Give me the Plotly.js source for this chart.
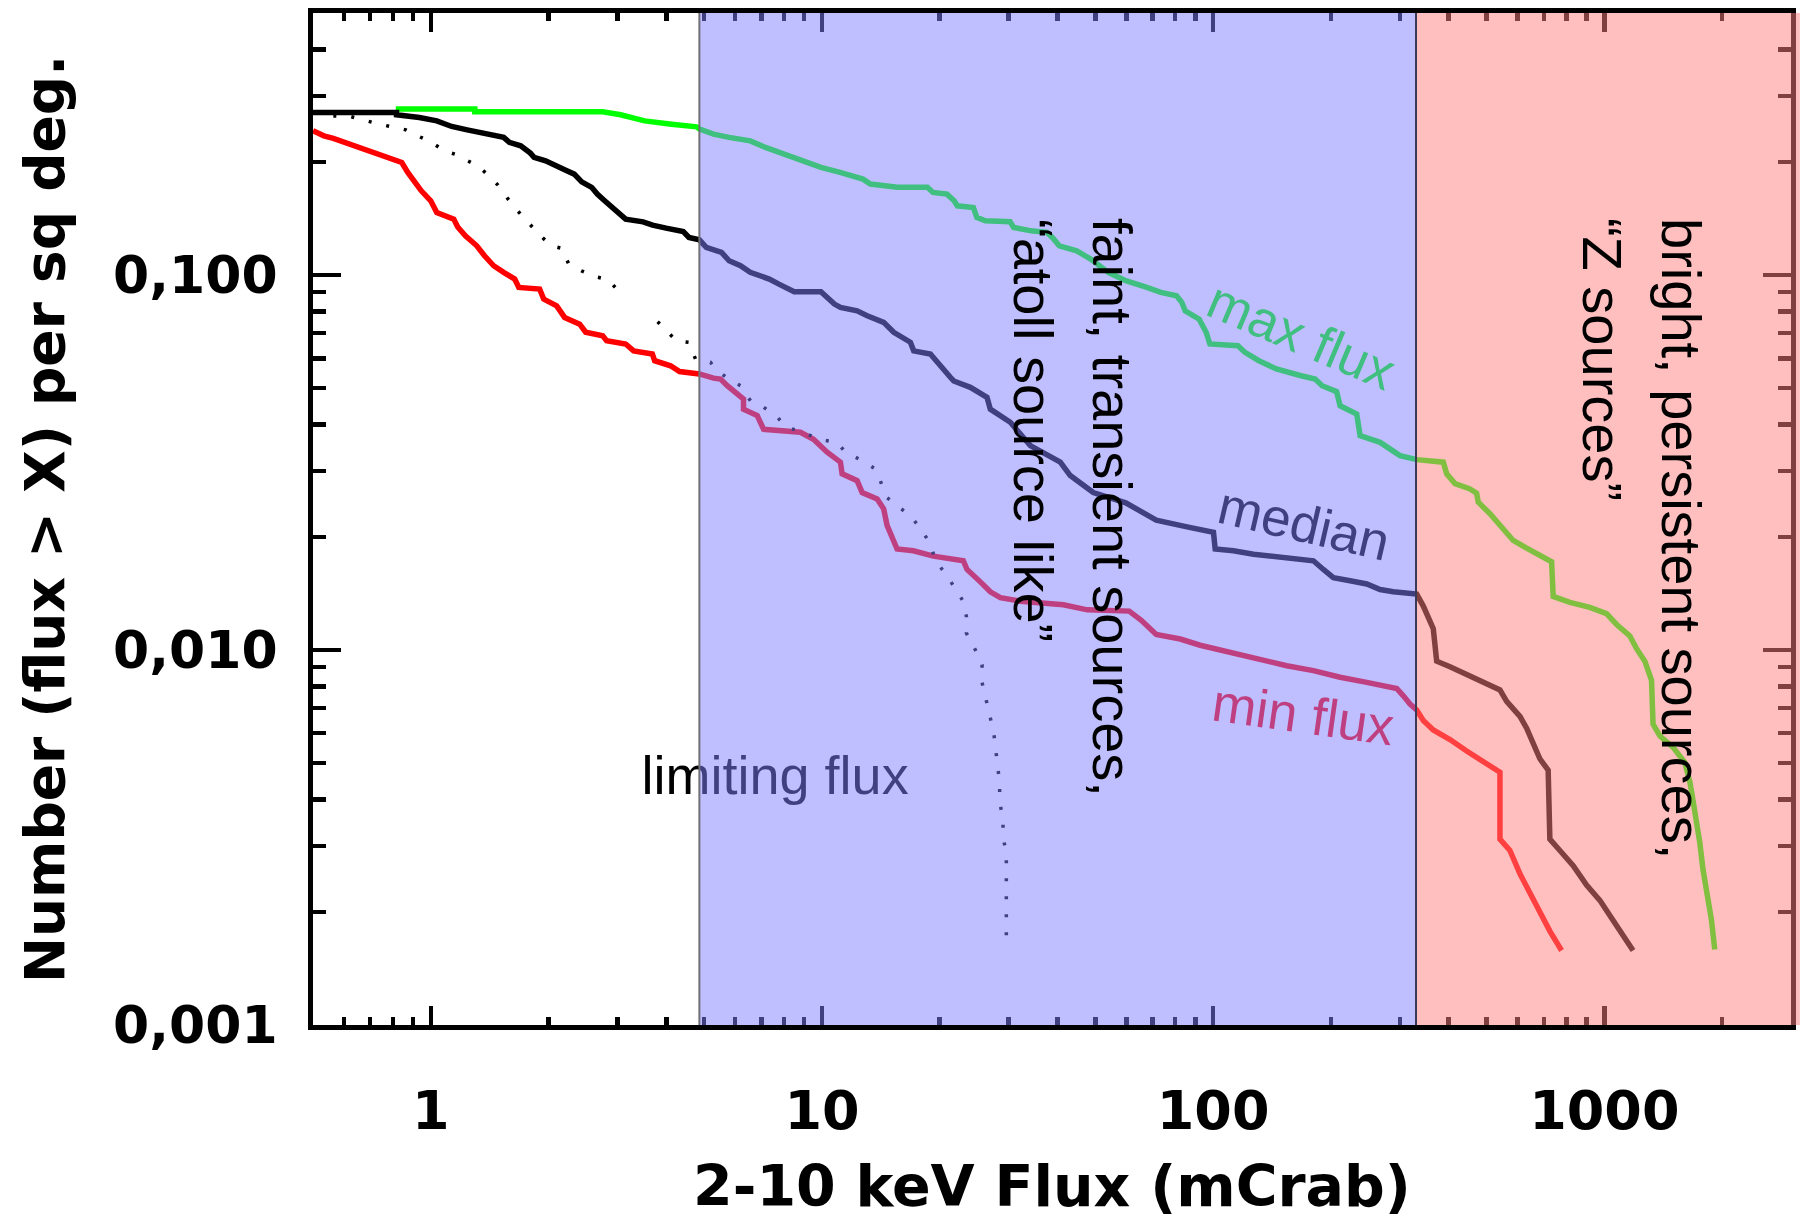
<!DOCTYPE html>
<html><head><meta charset="utf-8">
<script src="https://cdn.plot.ly/plotly-3.0.1.min.js"></script>
<style>body{margin:0;background:#fff}#chart{width:1803px;height:1219px}</style>
</head><body><div id="chart"></div>
<script>
// ---- data (flux in mCrab, N(>S) per sq deg) ----
const maxFluxX = [0.814,1.296,1.296,2.75,3.057,3.262,3.521,4.127,4.78,4.866,5.283,5.79,6.556,7.173,7.85,8.686,9.94,11.12,12.73,13.3,15.59,18.6,19.22,20.87,21.77,22.19,24.38,24.88,26.16,30.27,30.9,34.24,37.58,38.8,40.44,44.78,48.64,53.93,59.78,67.69,73.48,80.63,83.13,84.82,92.09,95.96,98.08,115.7,120.6,130.9,145.1,167.8,182.2,189.9,206.8,211.1,232.8,237.5,267.1,300.4,331.4,387.5,395.4,415.2,453.4,471.6,476.1,510,551.4,584.8,632.8,684.1,733,740,816.5,918.3,1013,1075,1162,1208,1269,1320,1332,1387,1499,1606,1654,1686,1720,1754,1788,1841,1878,1915];
const maxFluxY = [0.2772,0.2772,0.2727,0.2727,0.2676,0.2633,0.2578,0.2526,0.2485,0.245,0.2377,0.2329,0.228,0.219,0.2115,0.2047,0.1937,0.1879,0.1803,0.1749,0.1714,0.1714,0.1661,0.1644,0.1578,0.153,0.1515,0.1425,0.1396,0.1387,0.134,0.1312,0.13,0.126,0.1197,0.1161,0.1103,0.1017,0.0966,0.0927,0.0899,0.0881,0.0846,0.0803,0.0763,0.0704,0.0655,0.0648,0.0622,0.0591,0.0562,0.0539,0.0528,0.0507,0.0489,0.0448,0.0426,0.0373,0.0358,0.033,0.0322,0.0317,0.0295,0.0278,0.0269,0.0262,0.0248,0.0231,0.021,0.0196,0.0187,0.0178,0.0172,0.0139,0.0134,0.013,0.0125,0.0117,0.0109,0.0101,0.00934,0.0083,0.00634,0.0059,0.0055,0.00501,0.00445,0.00396,0.00352,0.00306,0.00259,0.0022,0.00191,0.00159];

const medianX = [0.5,0.8174,0.8174,0.935,1.036,1.131,1.239,1.387,1.536,1.588,1.698,1.797,1.837,1.966,2.08,2.199,2.327,2.431,2.578,2.665,2.783,2.917,3.051,3.149,3.49,3.69,3.995,4.42,4.571,4.86,5.061,5.537,5.79,6.192,6.556,7.335,7.761,8.492,9.94,10.76,11.15,12.3,13.05,14.38,15.26,16.83,17.16,18.93,21.29,21.72,23.95,26.42,26.94,30.3,34.09,40.67,43.12,49.38,59.78,71.53,85.73,100.2,101.2,112.7,126.8,145.5,180.4,191.3,202.9,223.8,247,267.1,288.8,331.4,344.5,365.3,372.7,403.1,444.6,500.1,540.9,562.6,608.5,632.9,657.9,684.1,718.4,725.6,769.6,832.4,900.6,974,1033,1095,1184];
const medianY = [0.2716,0.2716,0.2676,0.2633,0.2578,0.2491,0.244,0.2391,0.2329,0.2259,0.2212,0.2115,0.206,0.2018,0.1956,0.1909,0.1859,0.1773,0.1714,0.1644,0.1578,0.1515,0.1445,0.141,0.1387,0.1359,0.1334,0.1307,0.126,0.1242,0.1186,0.1149,0.1092,0.1059,0.1017,0.0976,0.0946,0.0903,0.0903,0.0837,0.082,0.0803,0.0779,0.0748,0.0704,0.0662,0.0628,0.0616,0.0534,0.0522,0.0502,0.0472,0.0439,0.0405,0.0351,0.0317,0.0292,0.0263,0.0247,0.0222,0.0213,0.0206,0.0186,0.0184,0.018,0.0177,0.0173,0.0164,0.0156,0.0153,0.015,0.0145,0.0143,0.0141,0.0131,0.0114,0.00934,0.00902,0.0086,0.00811,0.00783,0.0073,0.00665,0.00619,0.00564,0.00513,0.00478,0.00313,0.00292,0.00266,0.00236,0.00215,0.00196,0.00178,0.00158];

const minFluxX = [0.5,0.533,0.5636,0.596,0.6585,0.7301,0.7997,0.8431,0.8735,0.905,0.9457,1.0,1.036,1.145,1.172,1.226,1.311,1.372,1.448,1.536,1.639,1.679,1.898,1.944,2.098,2.199,2.403,2.489,2.75,2.816,3.149,3.301,3.685,3.735,4.102,4.325,4.857,5.283,5.505,5.727,6.073,6.302,6.302,6.832,7.09,7.834,8.81,9.513,10.31,11.15,11.26,12.3,12.67,13.84,14.38,14.67,15.23,15.56,17.13,19.27,22.98,23.49,25.4,26.94,28.58,32.14,41.4,47.67,61,65.5,71.53,82.38,92.64,102.2,112.7,131.8,154.2,180.4,211.1,247,294.6,306.3,318.6,331.4,344.5,365.3,403.1,444.6,500.1,540.9,540.9,573.6,608.5,645.3,684.1,725.6,777.4];
const minFluxY = [0.2426,0.2352,0.2315,0.2267,0.219,0.2115,0.2047,0.1997,0.1879,0.1784,0.1678,0.1578,0.1469,0.141,0.1343,0.1273,0.1197,0.1126,0.1059,0.1017,0.0976,0.0927,0.0918,0.0863,0.0828,0.0771,0.074,0.0704,0.0689,0.0668,0.0655,0.0628,0.0616,0.0591,0.0573,0.0553,0.0545,0.0531,0.0528,0.0507,0.0482,0.0467,0.0439,0.0422,0.0388,0.0384,0.0381,0.0365,0.0337,0.0317,0.0295,0.0283,0.0263,0.0253,0.0238,0.0215,0.0198,0.0186,0.0184,0.0178,0.0173,0.0164,0.0152,0.0143,0.0138,0.0135,0.0132,0.0128,0.0127,0.012,0.011,0.0107,0.0103,0.01006,0.00976,0.00946,0.00908,0.00881,0.00846,0.0082,0.0079,0.00755,0.00718,0.00692,0.00649,0.00612,0.00577,0.00538,0.00495,0.00472,0.00313,0.00292,0.00253,0.00225,0.002,0.00178,0.00158];

const limitFluxX = [0.5636,0.6236,0.7386,0.7938,0.8632,0.9247,1.0,1.083,1.152,1.331,1.483,1.623,1.898,2.033,2.166,2.252,2.424,2.616,2.849,2.961,null,3.801,4.02,4.245,4.56,4.752,5.191,5.346,5.84,6.192,6.569,7.1,7.674,8.101,8.897,9.81,10.94,11.48,12.67,13.7,14.67,15.56,16.9,17.92,18.93,19.5,20.68,21.72,22.95,23.4,23.4,24.57,25.66,25.66,26.16,26.83,27.47,27.79,28.03,28.46,28.46,29.03,29.03,29.6,29.6];
const limitFluxY = [0.2657,0.2647,0.2526,0.2491,0.244,0.2352,0.2267,0.2145,0.2102,0.1944,0.1741,0.153,0.1279,0.1197,0.1178,0.107,0.1027,0.0992,0.0972,0.0927,null,0.0751,0.0706,0.0668,0.0662,0.0597,0.0585,0.0562,0.0523,0.0507,0.0462,0.0444,0.0419,0.0393,0.0382,0.0365,0.0358,0.0337,0.032,0.0304,0.0255,0.0243,0.0227,0.021,0.0192,0.0173,0.016,0.0148,0.0135,0.0123,0.0111,0.0101,0.00914,0.0082,0.00745,0.00671,0.00605,0.00545,0.00487,0.00442,0.00394,0.00354,0.00317,0.00288,0.00162];

const regionEdges = [4.86, 330, 3000];   // faint/transient region, bright/persistent region, right end
const xTickVals = [1, 10, 100, 1000];
const xTickText = ['1', '10', '100', '1000'];
const yTickVals = [0.001, 0.01, 0.1];
const yTickText = ['0,001', '0,010', '0,100'];

// ---- traces ----
const traces = [
  {x: maxFluxX, y: maxFluxY, mode: 'lines', line: {color: '#00ff00', width: 5.5}, hoverinfo: 'skip'},
  {x: medianX, y: medianY, mode: 'lines', line: {color: '#000000', width: 5.5}, hoverinfo: 'skip'},
  {x: minFluxX, y: minFluxY, mode: 'lines', line: {color: '#ff0000', width: 5.5}, hoverinfo: 'skip'},
  {x: limitFluxX, y: limitFluxY, mode: 'lines', connectgaps: false, line: {color: '#000000', width: 3.5, dash: '3px,15px'}, hoverinfo: 'skip'},
  {x: [7.59], y: [0.0045], mode: 'text', text: ['limiting flux'], textposition: 'middle center',
   textfont: {family: 'Liberation Sans, Arial, sans-serif', size: 54, color: '#000'}, hoverinfo: 'skip'}
];

const axisFont = {family: 'DejaVu Sans, sans-serif', size: 52, weight: 'bold', color: '#000'};
const common = {
  type: 'log', showgrid: false, zeroline: false, showline: true, linecolor: '#000', linewidth: 5,
  mirror: 'ticks', ticks: 'inside', tickcolor: '#000', tickwidth: 4.5, tickmode: 'array',
  tickfont: axisFont
};

const lblFont = (c, s) => ({family: 'Liberation Sans, Arial, sans-serif', size: s, color: c});

const layout = {
  width: 1803, height: 1219,
  margin: {l: 313, r: 12, t: 13, b: 194},
  paper_bgcolor: '#fff', plot_bgcolor: '#fff',
  showlegend: false,
  xaxis: Object.assign({}, common, {
    range: [Math.log10(0.5), Math.log10(3000)],
    tickvals: xTickVals, ticktext: xTickText, ticklen: 19, ticklabelstandoff: 34,
    tickfont: {family: 'DejaVu Sans, sans-serif', size: 54, weight: 'bold', color: '#000'},
    minor: {ticks: 'inside', ticklen: 8, tickwidth: 4.5, tickcolor: '#000', dtick: 'D1', showgrid: false},
    title: {text: '2-10 keV Flux (mCrab)', font: {family: 'DejaVu Sans, sans-serif', size: 57, weight: 'bold', color: '#000'}, standoff: 30}
  }),
  yaxis: Object.assign({}, common, {
    range: [-3, Math.log10(0.5)],
    tickvals: yTickVals, ticktext: yTickText, ticklen: 28, ticklabelstandoff: 20,
    minor: {ticks: 'inside', ticklen: 13, tickwidth: 4.5, tickcolor: '#000', dtick: 'D1', showgrid: false},
    title: {text: 'Number (flux > X) per sq deg.', font: {family: 'DejaVu Sans, sans-serif', size: 55, weight: 'bold', color: '#000'}, standoff: 32}
  }),
  shapes: [
    {type: 'rect', layer: 'above', xref: 'x', yref: 'paper', x0: regionEdges[0], x1: regionEdges[1], y0: 0, y1: 1,
     fillcolor: 'rgb(128,128,255)', opacity: 0.5, line: {width: 0}},
    {type: 'rect', layer: 'above', xref: 'x', yref: 'paper', x0: regionEdges[1], x1: regionEdges[2] * 2, y0: 0, y1: 1,
     fillcolor: 'rgb(255,128,128)', opacity: 0.5, line: {width: 0}},
    {type: 'rect', layer: 'above', xref: 'paper', yref: 'paper', x0: 1, x1: 1.006, y0: 0, y1: 1,
     fillcolor: 'rgb(255,128,128)', opacity: 0.5, line: {width: 0}},
    {type: 'line', layer: 'above', xref: 'x', yref: 'paper', x0: regionEdges[0], x1: regionEdges[0], y0: 0, y1: 1,
     line: {color: '#707078', width: 2}},
    {type: 'line', layer: 'above', xref: 'x', yref: 'paper', x0: regionEdges[1], x1: regionEdges[1], y0: 0, y1: 1,
     line: {color: '#3a3a55', width: 2}}
  ],
  annotations: [
    {xref: 'paper', yref: 'paper', x: 0.5406, y: 0.8, xanchor: 'center', yanchor: 'top', textangle: 90, showarrow: false,
     text: 'faint, transient sources,', font: lblFont('#000', 56)},
    {xref: 'paper', yref: 'paper', x: 0.4871, y: 0.798, xanchor: 'center', yanchor: 'top', textangle: 90, showarrow: false,
     text: '“atoll source like”', font: lblFont('#000', 56)},
    {xref: 'paper', yref: 'paper', x: 0.9255, y: 0.799, xanchor: 'center', yanchor: 'top', textangle: 90, showarrow: false,
     text: 'bright, persistent sources,', font: lblFont('#000', 56)},
    {xref: 'paper', yref: 'paper', x: 0.8721, y: 0.799, xanchor: 'center', yanchor: 'top', textangle: 90, showarrow: false,
     text: '“Z sources”', font: lblFont('#000', 56)},
    {xref: 'paper', yref: 'paper', x: 0.6690, y: 0.6818, xanchor: 'center', yanchor: 'middle', textangle: 23, showarrow: false,
     text: 'max flux', font: lblFont('#40bf80', 53)},
    {xref: 'paper', yref: 'paper', x: 0.6705, y: 0.4951, xanchor: 'center', yanchor: 'middle', textangle: 13, showarrow: false,
     text: 'median', font: lblFont('#404080', 53)},
    {xref: 'paper', yref: 'paper', x: 0.6705, y: 0.3073, xanchor: 'center', yanchor: 'middle', textangle: 8, showarrow: false,
     text: 'min flux', font: lblFont('#bf4080', 53)}
  ]
};

Plotly.newPlot('chart', traces, layout, {staticPlot: true, displayModeBar: false});
</script>
</body></html>
